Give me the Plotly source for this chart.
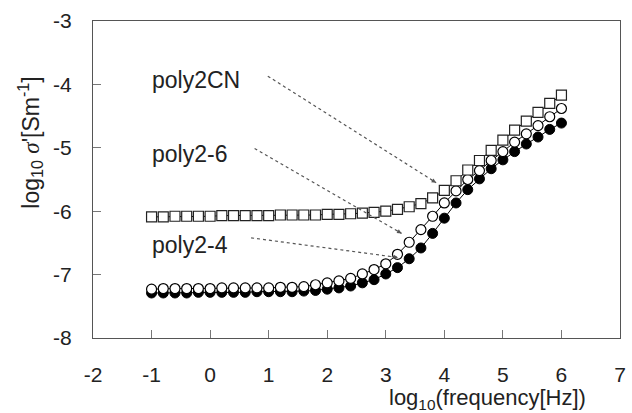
import math
import plotly.graph_objects as go

log_freq = [round(-1.0 + 0.2 * i, 1) for i in range(36)]

poly2_4 = [-7.29, -7.29, -7.29, -7.29, -7.28, -7.28, -7.28, -7.28, -7.28, -7.27, -7.27, -7.27, -7.27,
           -7.26, -7.25, -7.23, -7.21, -7.18, -7.13, -7.08, -6.99, -6.89, -6.75, -6.58, -6.35, -6.11,
           -5.87, -5.66, -5.49, -5.33, -5.19, -5.06, -4.94, -4.83, -4.71, -4.61]
poly2_6 = [-7.23, -7.22, -7.22, -7.22, -7.22, -7.22, -7.21, -7.21, -7.21, -7.21, -7.21, -7.20, -7.20,
           -7.19, -7.16, -7.13, -7.10, -7.06, -6.99, -6.92, -6.83, -6.68, -6.49, -6.29, -6.08, -5.87,
           -5.68, -5.50, -5.36, -5.20, -5.06, -4.91, -4.78, -4.65, -4.51, -4.38]
poly2CN = [-6.09, -6.09, -6.08, -6.08, -6.08, -6.08, -6.07, -6.07, -6.07, -6.07, -6.07, -6.06, -6.06,
           -6.06, -6.06, -6.05, -6.05, -6.04, -6.03, -6.02, -6.00, -5.97, -5.93, -5.88, -5.79, -5.67,
           -5.52, -5.35, -5.20, -5.04, -4.88, -4.72, -4.58, -4.44, -4.30, -4.17]

x_ticks = [-2, -1, 0, 1, 2, 3, 4, 5, 6, 7]
y_ticks = [-8, -7, -6, -5, -4, -3]

labels = ["poly2CN", "poly2-6", "poly2-4"]
label_pos = [(-1.03, -3.93), (-1.03, -5.09), (-1.03, -6.54)]
arrow_start = [(0.985, -3.87), (0.76, -5.01), (0.70, -6.42)]
arrow_end = [(3.86, -5.55), (3.27, -6.35), (3.21, -6.73)]

FONT = "Liberation Sans, Arial, sans-serif"

W, H = 632, 413
ML, MR, MT, MB = 93, 6, 21, 75
PX_X = (W - ML - MR) / 9.0
PX_Y = (H - MT - MB) / 5.0

fig = go.Figure()
fig.add_trace(go.Scatter(x=log_freq, y=poly2_4, mode="lines+markers", name="poly2-4",
                         line=dict(color="black", width=1),
                         marker=dict(symbol="circle", size=10, color="black",
                                     line=dict(color="black", width=1))))
fig.add_trace(go.Scatter(x=log_freq, y=poly2_6, mode="lines+markers", name="poly2-6",
                         line=dict(color="black", width=1),
                         marker=dict(symbol="circle", size=10, color="white",
                                     line=dict(color="black", width=1.2))))
fig.add_trace(go.Scatter(x=log_freq, y=poly2CN, mode="lines+markers", name="poly2CN",
                         line=dict(color="black", width=1),
                         marker=dict(symbol="square", size=10, color="white",
                                     line=dict(color="#222", width=1.2))))

for lab, (lx, ly), (sx, sy), (ex, ey) in zip(labels, label_pos, arrow_start, arrow_end):
    fig.add_annotation(x=lx, y=ly, xref="x", yref="y", text=lab, showarrow=False,
                       xanchor="left", yanchor="middle",
                       font=dict(family=FONT, size=23, color="#222"))
    fig.add_shape(type="line", x0=sx, y0=sy, x1=ex, y1=ey, xref="x", yref="y",
                  line=dict(color="#555", width=1.2, dash="dot"))
    # short arrow head pointing along the dotted line
    dxp = (sx - ex) * PX_X
    dyp = -(sy - ey) * PX_Y
    n = math.hypot(dxp, dyp)
    fig.add_annotation(x=ex, y=ey, xref="x", yref="y", ax=dxp / n * 8, ay=dyp / n * 8,
                       text="", showarrow=True, arrowhead=2, arrowsize=0.9, arrowwidth=1,
                       arrowcolor="#555")

# axis titles
fig.add_annotation(x=0.749, y=-0.193, xref="paper", yref="paper",
                   text="log<sub>10</sub>(frequency[Hz])", showarrow=False,
                   xanchor="center", yanchor="middle",
                   font=dict(family=FONT, size=22, color="#222"))
fig.add_annotation(x=-0.119, y=0.617, xref="paper", yref="paper", textangle=-90,
                   text="log<sub>10</sub> <i><span style='font-family:Liberation Serif'>σ</span></i>'[Sm<sup>-1</sup>]",
                   showarrow=False, xanchor="center", yanchor="middle",
                   font=dict(family=FONT, size=23, color="#222"))

fig.update_layout(
    width=W, height=H,
    margin=dict(l=ML, r=MR, t=MT, b=MB),
    paper_bgcolor="white", plot_bgcolor="white",
    showlegend=False,
    xaxis=dict(range=[-2, 7], tickvals=x_ticks, ticktext=[str(v) for v in x_ticks],
               showgrid=False, zeroline=False, showline=True, linecolor="#555", linewidth=1,
               mirror=True, ticks="inside", ticklen=8, tickcolor="#777",
               ticklabelstandoff=18,
               tickfont=dict(family=FONT, size=21, color="#222")),
    yaxis=dict(range=[-8, -3], tickvals=y_ticks, ticktext=[str(v) for v in y_ticks],
               showgrid=False, zeroline=False, showline=True, linecolor="#555", linewidth=1,
               mirror=True, ticks="inside", ticklen=8, tickcolor="#777",
               ticklabelstandoff=16,
               tickfont=dict(family=FONT, size=21, color="#222")),
)

fig.write_html("out.html")
